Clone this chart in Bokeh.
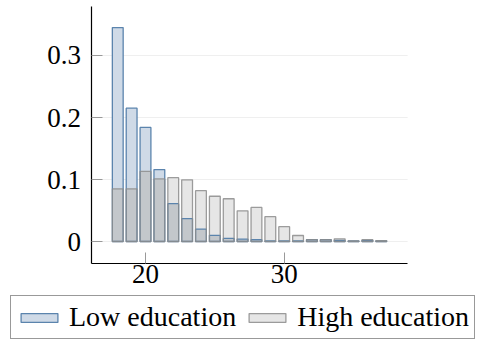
import numpy as np
from bokeh.plotting import figure
from bokeh.models import Range1d, FixedTicker, Legend, LegendItem, LinearAxis
from bokeh.embed import file_html
from bokeh.resources import INLINE

ages = list(range(18, 38))
low_edu = [0.345, 0.215, 0.184, 0.116, 0.061, 0.037, 0.020, 0.010, 0.005, 0.004,
           0.003, 0.001, 0.001, 0.001, 0.003, 0.003, 0.002, 0.001, 0.002, 0.001]
high_edu = [0.085, 0.085, 0.113, 0.101, 0.103, 0.0995, 0.082, 0.073, 0.069, 0.0495,
            0.055, 0.040, 0.024, 0.0097, 0.003, 0.003, 0.0043, 0.001, 0.003, 0.0015]
y_ticks = [0, 0.1, 0.2, 0.3]
y_tick_labels = {0: "0", 0.1: "0.1", 0.2: "0.2", 0.3: "0.3"}
x_ticks = [20, 30]
labels = ["Low education", "High education"]

overlap = list(np.minimum(low_edu, high_edu))

FONT = "'Liberation Serif', serif"
LOW_FILL, LOW_LINE = "#cfdae7", "#5b84ad"
HIGH_FILL, HIGH_LINE = "#e6e6e6", "#8c8c8c"

# plotting area bounds (data units)
X0, X1 = 16.08, 38.9
Y0, Y1 = -0.035, 0.3795

p = figure(width=478, height=345, output_backend="svg", toolbar_location=None,
           x_range=Range1d(9.546, 44.01), y_range=Range1d(-0.1677, 0.3887),
           x_axis_type=None, y_axis_type=None,
           min_border=0, min_border_left=0, min_border_right=0,
           min_border_top=0, min_border_bottom=0)
p.outline_line_color = None
p.background_fill_color = "white"
p.grid.visible = False

# horizontal grid lines limited to the plotting area
p.segment(x0=[X0] * len(y_ticks), x1=[X1] * len(y_ticks), y0=y_ticks, y1=y_ticks,
          line_color="#efefef", line_width=1)

W = 0.78
r1 = p.vbar(x=ages, top=low_edu, bottom=0, width=W, fill_color=LOW_FILL, line_color=None)
r2 = p.vbar(x=ages, top=high_edu, bottom=0, width=W, fill_color=HIGH_FILL, line_color=None)
p.vbar(x=ages, top=overlap, bottom=0, width=W, fill_color="#c3c7cb", line_color=None)
r4 = p.vbar(x=ages, top=low_edu, bottom=0, width=W, fill_color=None,
            line_color=LOW_LINE, line_width=1.3)
r5 = p.vbar(x=ages, top=high_edu, bottom=0, width=W, fill_color=None,
            line_color=HIGH_LINE, line_alpha=0.85, line_width=1.3)

xaxis = LinearAxis(fixed_location=Y0, bounds=(X0, X1), ticker=FixedTicker(ticks=x_ticks))
yaxis = LinearAxis(fixed_location=X0, bounds=(Y0, Y1), ticker=FixedTicker(ticks=y_ticks),
                   major_label_overrides=y_tick_labels)
for ax in (xaxis, yaxis):
    ax.axis_line_color = "black"
    ax.axis_line_width = 1.2
    ax.major_tick_in = 11
    ax.major_tick_out = 0
    ax.major_tick_line_color = "#999999"
    ax.major_tick_line_width = 1
    ax.minor_tick_line_color = None
    ax.major_label_text_font = FONT
    ax.major_label_text_font_size = "27px"
    ax.major_label_text_color = "black"
yaxis.major_label_standoff = 10
xaxis.major_label_standoff = 2
p.add_layout(xaxis, "below")
p.add_layout(yaxis, "left")

legend = Legend(items=[LegendItem(label=labels[0], renderers=[r1, r4]),
                       LegendItem(label=labels[1], renderers=[r2, r5])],
                orientation="horizontal", location=(10, 6),
                glyph_width=46, glyph_height=11, label_standoff=7, spacing=8,
                padding=5, margin=0,
                label_text_font=FONT, label_text_font_size="28px",
                label_text_color="black",
                border_line_color="#333333", border_line_width=1,
                background_fill_color="white", background_fill_alpha=1)
p.add_layout(legend, "center")

open("out.html", "w").write(file_html(p, INLINE))
